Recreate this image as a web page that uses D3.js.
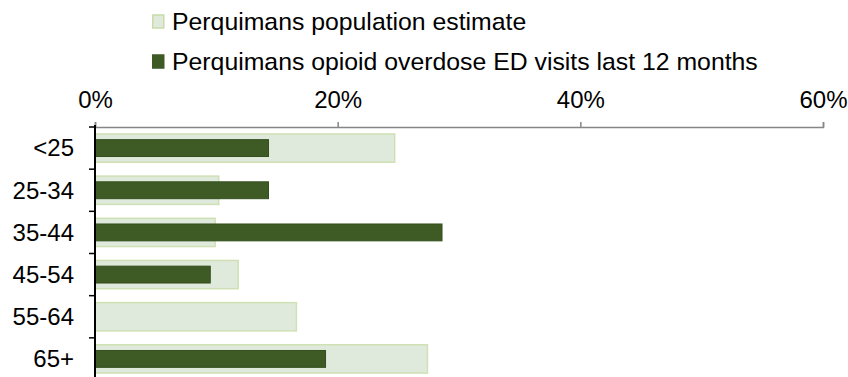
<!DOCTYPE html>
<html>
<head>
<meta charset="utf-8">
<script src="https://cdn.jsdelivr.net/npm/d3@7.9.0/dist/d3.min.js"></script>
<style>
  body { margin: 0; background: #fff; }
  svg { display: block; font-family: "Liberation Sans", Arial, sans-serif; }
</style>
</head>
<body>
<svg id="chart" width="848" height="377"></svg>
<script>
const ageGroups = ['<25', '25-34', '35-44', '45-54', '55-64', '65+'];
const populationPct = [24.7, 10.2, 9.9, 11.8, 16.6, 27.4];
const overdosePct = [14.3, 14.3, 28.6, 9.5, 0, 19.0];
const xTicks = [0, 20, 40, 60];
const seriesNames = [
  'Perquimans population estimate',
  'Perquimans opioid overdose ED visits last 12 months'
];

const svg = d3.select('#chart');

const x = d3.scaleLinear().domain([0, 60]).range([95, 823]);
const y = d3.scaleBand().domain(ageGroups).range([127, 380]);

// legend
const legendColors = [
  { fill: '#e0eadc', stroke: '#c9dca8' },
  { fill: '#3e5a25', stroke: '#3e5a25' }
];
seriesNames.forEach((name, i) => {
  const g = svg.append('g').attr('transform', `translate(152,${21 + i * 40})`);
  g.append('rect')
    .attr('x', 0.75).attr('y', -6)
    .attr('width', 11).attr('height', 13)
    .attr('fill', legendColors[i].fill)
    .attr('stroke', legendColors[i].stroke)
    .attr('stroke-width', 1.5);
  g.append('text')
    .attr('x', 20).attr('y', 0)
    .attr('dy', '0.35em')
    .attr('font-size', 24.8)
    .attr('fill', '#000')
    .text(name);
});

// top axis
const xAxis = svg.append('g')
  .attr('transform', 'translate(0,127)')
  .call(d3.axisTop(x).tickValues(xTicks).tickFormat(d => d + '%').tickSize(5).tickPadding(14));
xAxis.select('.domain').attr('stroke', '#868686').attr('stroke-width', 1.5);
xAxis.selectAll('.tick line').attr('stroke', '#868686').attr('stroke-width', 1.5);
xAxis.selectAll('.tick text')
  .attr('font-size', 24)
  .attr('fill', '#000')
  .attr('font-family', '"Liberation Sans", Arial, sans-serif');

// population bars
const popH = y.bandwidth() * 0.67;
svg.append('g').selectAll('rect')
  .data(ageGroups)
  .join('rect')
  .attr('x', x(0))
  .attr('y', d => y(d) + (y.bandwidth() - popH) / 2)
  .attr('width', (d, i) => x(populationPct[i]) - x(0))
  .attr('height', popH)
  .attr('fill', '#e0eadc')
  .attr('stroke', '#cfe0b4')
  .attr('stroke-width', 1.5);

// overdose bars
const odH = y.bandwidth() * 0.4;
svg.append('g').selectAll('rect')
  .data(ageGroups.filter((d, i) => overdosePct[i] > 0))
  .join('rect')
  .attr('x', x(0))
  .attr('y', d => y(d) + (y.bandwidth() - odH) / 2)
  .attr('width', d => x(overdosePct[ageGroups.indexOf(d)]) - x(0))
  .attr('height', odH)
  .attr('fill', '#3e5a25')
  .attr('stroke', '#34501e')
  .attr('stroke-width', 1);

// left axis with ticks at band edges
const yAxis = svg.append('g').attr('transform', `translate(${x(0)},0)`);
yAxis.append('line')
  .attr('x1', 0).attr('x2', 0)
  .attr('y1', 125).attr('y2', 380)
  .attr('stroke', '#000').attr('stroke-width', 2);
yAxis.selectAll('line.edge')
  .data(ageGroups)
  .join('line')
  .attr('class', 'edge')
  .attr('x1', -6).attr('x2', 0)
  .attr('y1', d => y(d)).attr('y2', d => y(d))
  .attr('stroke', '#000').attr('stroke-width', 1.5);
yAxis.selectAll('text')
  .data(ageGroups)
  .join('text')
  .attr('x', -21)
  .attr('y', d => y(d) + y.bandwidth() / 2)
  .attr('dy', '0.35em')
  .attr('text-anchor', 'end')
  .attr('font-size', 24)
  .attr('fill', '#000')
  .text(d => d);
</script>
</body>
</html>
